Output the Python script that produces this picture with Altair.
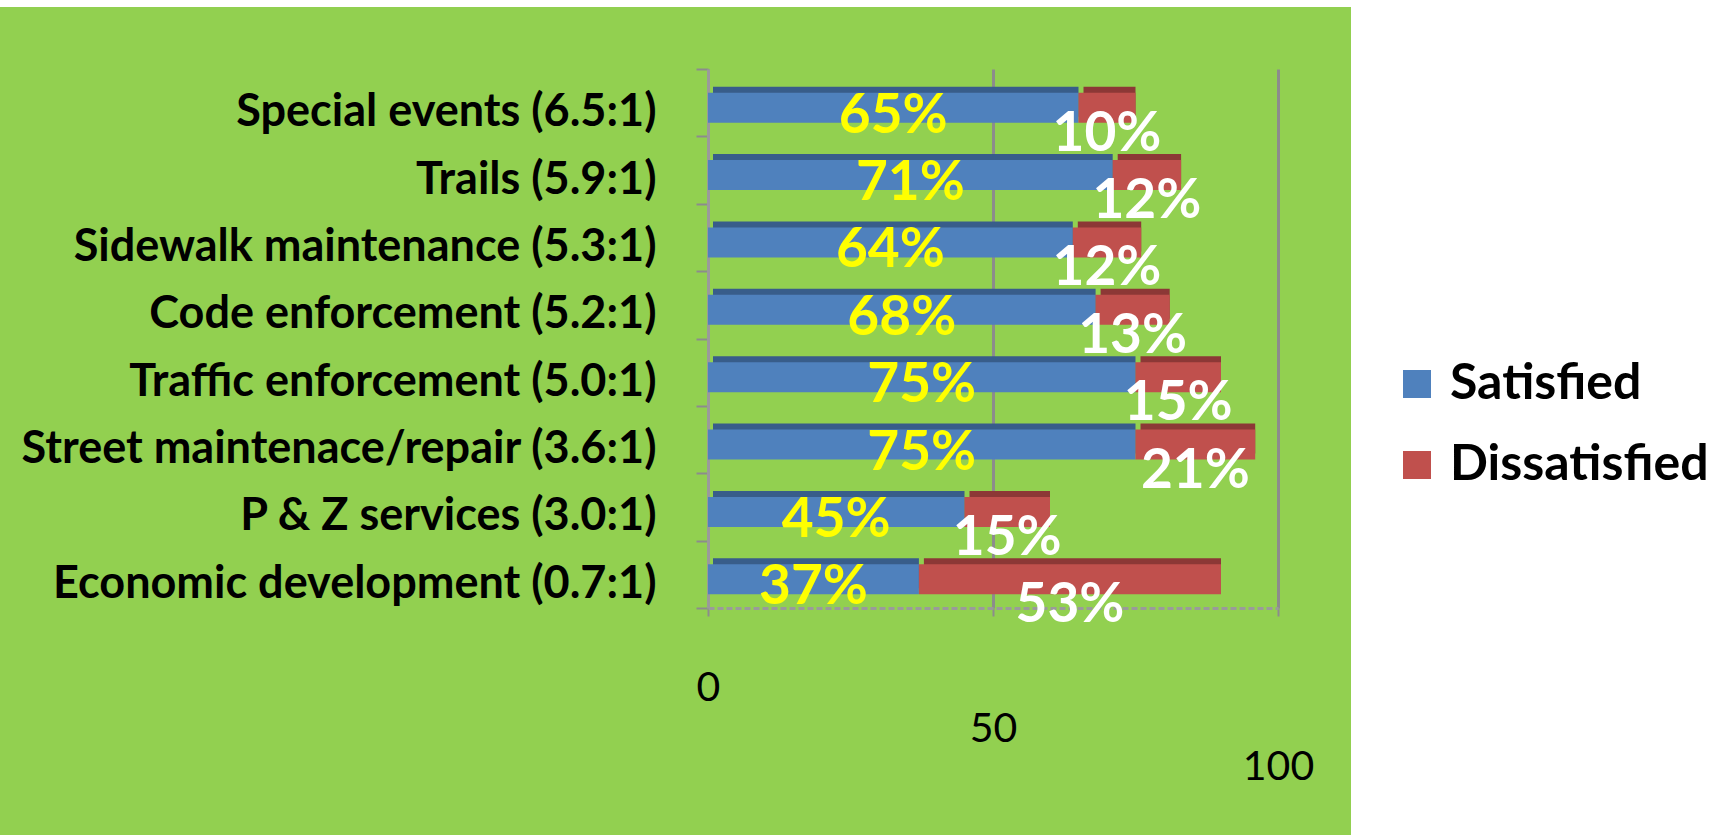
import altair as alt
import pandas as pd

categories = [
    "Special events (6.5:1)",
    "Trails (5.9:1)",
    "Sidewalk maintenance (5.3:1)",
    "Code enforcement (5.2:1)",
    "Traffic enforcement (5.0:1)",
    "Street maintenace/repair (3.6:1)",
    "P & Z services (3.0:1)",
    "Economic development (0.7:1)",
]
satisfied = [65, 71, 64, 68, 75, 75, 45, 37]
dissatisfied = [10, 12, 12, 13, 15, 21, 15, 53]
series = ["Satisfied", "Dissatisfied"]
x_ticks = [0, 50, 100]

rows = []
for c, s, d in zip(categories, satisfied, dissatisfied):
    rows.append(dict(cat=c, series="Satisfied", value=s, start=0, end=s, mid=s / 2, label=f"{s}%"))
    rows.append(dict(cat=c, series="Dissatisfied", value=d, start=s, end=s + d, mid=s + d / 2, label=f"{d}%"))
df = pd.DataFrame(rows)

GREEN = "#92D050"
FONT = "Lato, Liberation Sans, sans-serif"

W, H = 570, 539
PL, PT = 708, 69

x_enc = alt.X(
    "start:Q",
    scale=alt.Scale(domain=[0, 100], nice=False, zero=True),
    axis=alt.Axis(
        values=x_ticks,
        title=None,
        grid=True,
        gridColor="#8c8c8c",
        gridWidth=3,
        domain=True,
        domainColor="#9a9a9a",
        domainWidth=3,
        domainDash=[6, 3],
        ticks=True,
        tickColor="#8c8c8c",
        tickSize=8,
        tickWidth=2,
        labelFont=FONT,
        labelFontSize=41,
        labelColor="black",
        labelFlush=False,
        labelPadding={
            "condition": [
                {"test": "datum.value == 0", "value": 52},
                {"test": "datum.value == 50", "value": 93},
            ],
            "value": 131,
        },
    ),
)
y_enc = alt.Y(
    "cat:N",
    sort=categories,
    scale=alt.Scale(domain=categories, paddingInner=0, paddingOuter=0),
    axis=alt.Axis(
        title=None,
        domain=True,
        domainColor="#9a9a9a",
        domainWidth=3,
        ticks=True,
        tickBand="extent",
        tickColor="#8c8c8c",
        tickSize=12,
        tickWidth=2,
        labelFont=FONT,
        labelFontSize=45,
        labelFontWeight="bold",
        labelColor="black",
        labelPadding=40,
        labelOffset=9,
        labelLimit=0,
    ),
)

base = alt.Chart(df)

back = base.mark_bar(size=30, xOffset=5, yOffset=-1).encode(
    x=x_enc,
    x2="end:Q",
    y=y_enc,
    fill=alt.Fill(
        "series:N",
        scale=alt.Scale(domain=series, range=["#385D8A", "#8C3836"]),
        legend=None,
    ),
)

front = base.mark_bar(size=30, yOffset=5).encode(
    x=x_enc,
    x2="end:Q",
    y=y_enc,
    color=alt.Color(
        "series:N",
        sort=series,
        scale=alt.Scale(domain=series, range=["#4F81BD", "#C0504D"]),
        legend=alt.Legend(
            title=None,
            orient="none",
            legendX=684,
            legendY=290,
            symbolType="square",
            symbolSize=784,
            symbolStrokeWidth=0,
            labelFont=FONT,
            labelFontSize=50,
            labelFontWeight="bold",
            labelColor="black",
            labelOffset=8,
            labelLimit=0,
            rowPadding=31,
            padding=0,
        ),
    ),
)

sat_text = base.transform_filter("datum.series == 'Satisfied'").mark_text(
    font=FONT, fontSize=55, fontWeight="bold", color="#FFFF00", dy=13
).encode(x="mid:Q", y=alt.Y("cat:N", sort=categories), text="label:N")

dis_text = base.transform_filter("datum.series == 'Dissatisfied'").mark_text(
    font=FONT, fontSize=55, fontWeight="bold", color="white", dy=31
).encode(x="mid:Q", y=alt.Y("cat:N", sort=categories), text="label:N")

one = alt.Data(values=[{"k": 1}])
white_right = alt.Chart(one).mark_rect(color="white").encode(
    x=alt.value(1351 - PL), x2=alt.value(1723 - PL), y=alt.value(-PT), y2=alt.value(835 - PT)
)
white_top = alt.Chart(one).mark_rect(color="white").encode(
    x=alt.value(-PL), x2=alt.value(1351 - PL), y=alt.value(-PT), y2=alt.value(7 - PT)
)

chart = (
    alt.layer(white_right, white_top, back, front, sat_text, dis_text)
    .resolve_scale(color="independent", fill="independent")
    .properties(
        width=W,
        height=H,
        background=GREEN,
        autosize=alt.AutoSizeParams(type="none"),
        padding={"left": PL, "top": PT, "right": 1723 - PL - W, "bottom": 835 - PT - H},
    )
    .configure_view(stroke=None)
)

chart.save("out.html", embed_options={"renderer": "svg", "actions": False})
